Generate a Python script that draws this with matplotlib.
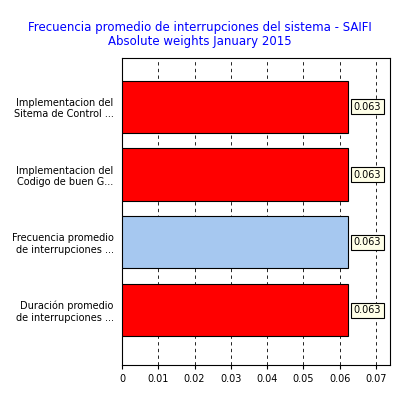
import matplotlib
matplotlib.use("Agg")
import matplotlib.pyplot as plt

categories = ["Implementacion del\nSitema de Control ...",
              "Implementacion del\nCodigo de buen G...",
              "Frecuencia promedio\nde interrupciones ...",
              "Duración promedio\nde interrupciones ..."]
values = [0.0624, 0.0624, 0.0624, 0.0624]
labels = ["0.063", "0.063", "0.063", "0.063"]
colors = ["#ff0000", "#ff0000", "#a6c8f0", "#ff0000"]
xticks = [0, 0.01, 0.02, 0.03, 0.04, 0.05, 0.06, 0.07]

fig = plt.figure(figsize=(4, 4), dpi=100)
ax = fig.add_axes([122/400, 1-365/400, 268/400, 307/400])
y = list(range(len(categories)))
ax.barh(y, values, height=0.77, color=colors, edgecolor="black", linewidth=0.8, zorder=3)
ax.set_ylim(3.81, -0.72)
ax.set_xlim(0, 0.0739)
ax.set_xticks(xticks)
ax.set_xticklabels(["0", "0.01", "0.02", "0.03", "0.04", "0.05", "0.06", "0.07"], fontsize=7)
ax.set_yticks(y)
ax.set_yticklabels(categories, fontsize=7)
ax.tick_params(axis="y", length=0, pad=6)
ax.tick_params(axis="x", length=3)
ax.grid(axis="x", color="black", linestyle=(0, (4, 4)), linewidth=0.6, zorder=0)
for yi, v, l in zip(y, values, labels):
    ax.text(v + 0.0015, yi, l, fontsize=7, va="center", ha="left", zorder=5,
            bbox=dict(boxstyle="square,pad=0.25", fc="#ffffe8", ec="black", lw=0.8))
fig.text(0.5, 0.913, "Frecuencia promedio de interrupciones del sistema - SAIFI\nAbsolute weights January 2015",
         ha="center", va="center", color="#0000ff", fontsize=8.5, linespacing=1.1)
fig.savefig("out.png", dpi=100)
